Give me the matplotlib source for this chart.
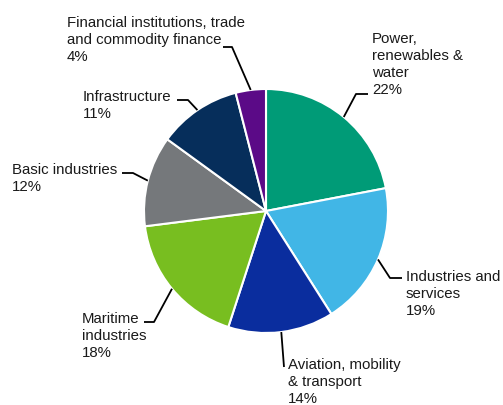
import numpy as np
import matplotlib.pyplot as plt

# data, clockwise from 12 o'clock
sectors = ["Power,\nrenewables &\nwater", "Industries and\nservices",
           "Aviation, mobility\n& transport", "Maritime\nindustries",
           "Basic industries", "Infrastructure",
           "Financial institutions, trade\nand commodity finance"]
shares = [22, 19, 14, 18, 12, 11, 4]
sector_colours = ["#009B77", "#41B6E6", "#0A2D9E", "#78BE20",
                  "#75787B", "#062E5B", "#5B0A87"]

W, H = 503, 405
CX, CY, R = 266, 211, 122  # pixel coords, y down


def py(y):
    # pixel row -> data y
    return H - y


# label layout: text left x, last-line baseline y, elbow point, end point (pixels)
label_layout = [
    dict(x=372, y=94, elbow=(356, 94), end=(368, 94)),
    dict(x=406, y=315, elbow=(390, 278), end=(402, 278)),
    dict(x=288, y=403, elbow=(284, 367), end=(284, 367)),
    dict(x=82, y=357, elbow=(154, 322), end=(144, 322)),
    dict(x=12, y=191, elbow=(133, 173), end=(122, 173)),
    dict(x=83, y=118, elbow=(188, 100), end=(177, 100)),
    dict(x=67, y=61, elbow=(232, 47), end=(223, 47)),
]

plt.rcParams['font.family'] = ['Liberation Sans', 'DejaVu Sans']

fig = plt.figure(figsize=(W / 100, H / 100), dpi=100)
ax = fig.add_axes([0, 0, 1, 1])

wedges, _ = ax.pie(shares, colors=sector_colours, startangle=90, counterclock=False,
                   center=(CX, py(CY)), radius=R,
                   wedgeprops=dict(edgecolor='white', linewidth=1.5))

ax.set_xlim(0, W)
ax.set_ylim(0, H)
ax.set_aspect('equal')
ax.axis('off')

for w, name, share, lay in zip(wedges, sectors, shares, label_layout):
    theta = np.deg2rad((w.theta1 + w.theta2) / 2)
    ax0 = CX + R * np.cos(theta)
    ay0 = py(CY) + R * np.sin(theta)
    xs = [ax0, lay['elbow'][0], lay['end'][0]]
    ys = [ay0, py(lay['elbow'][1]), py(lay['end'][1])]
    ax.plot(xs, ys, color='black', lw=1.3, solid_capstyle='butt', zorder=3)
    ax.text(lay['x'], py(lay['y']), f"{name}\n{share}%", fontsize=10.8,
            ha='left', va='baseline', color='#1a1a1a', linespacing=1.26)

fig.savefig("out.png", dpi=100, facecolor='white')
